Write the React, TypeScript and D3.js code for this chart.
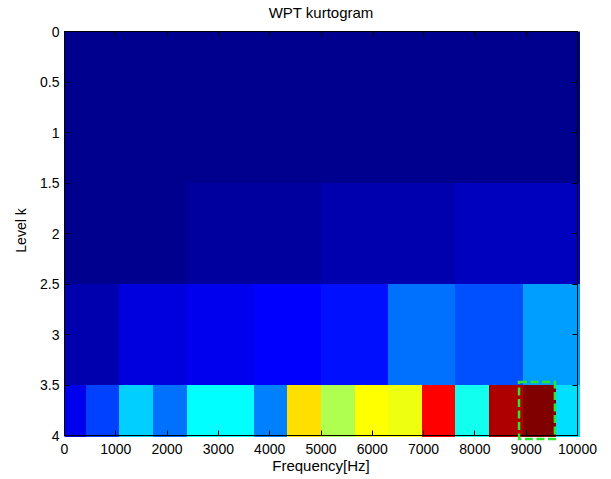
import { useEffect, useRef } from "react";
import * as d3 from "d3";

// kurtosis per frequency band, one array per decomposition level (2^k bands)
const KURT_LEVEL_0 = [0.0];
const KURT_LEVEL_1 = [0.0, 0.0];
const KURT_LEVEL_2 = [0.0, 0.1, 0.2, 0.3];
const KURT_LEVEL_3 = [0.2, 0.5, 0.6, 0.7, 0.8, 1.4, 1.2, 1.7];
const KURT_LEVEL_4 = [0.6, 1.1, 2.0, 1.4, 2.3, 2.3, 1.5, 4.1, 3.4, 3.9, 3.8, 5.5, 2.4, 6.0, 6.3, 2.1];
const LEVELS = [KURT_LEVEL_0, KURT_LEVEL_1, KURT_LEVEL_2, KURT_LEVEL_3, KURT_LEVEL_4];

// frequency span covered by the packet image (Hz)
const BAND_SPAN = [-240, 10240];

const FREQ_TICKS = [0, 1000, 2000, 3000, 4000, 5000, 6000, 7000, 8000, 9000, 10000];
const LEVEL_TICKS = [0, 0.5, 1, 1.5, 2, 2.5, 3, 3.5, 4];

// selected band box: [f0, f1, k0, k1]
const SELECTED = [8860, 9560, 3.47, 4.035];

// MATLAB jet(m)
function jet(m = 64): string[] {
  const n = Math.ceil(m / 4);
  const u = [
    ...d3.range(1, n + 1).map((i) => i / n),
    ...d3.range(n - 1).map(() => 1),
    ...d3.range(n, 0, -1).map((i) => i / n),
  ];
  const g0 = Math.ceil(n / 2) - (m % 4 === 1 ? 1 : 0);
  const J = d3.range(m).map(() => [0, 0, 0]);
  u.forEach((v, j) => {
    const g = g0 + j + 1;
    const r = g + n;
    const b = g - n;
    if (g >= 1 && g <= m) J[g - 1][1] = v;
    if (r >= 1 && r <= m) J[r - 1][0] = v;
    if (b >= 1 && b <= m) J[b - 1][2] = v;
  });
  return J.map(([r, g, b]) => d3.rgb(r * 255, g * 255, b * 255).formatHex());
}

export default function App() {
  const svgRef = useRef<SVGSVGElement>(null);
  const width = 611;
  const height = 479;

  useEffect(() => {
    const svgEl = svgRef.current;
    if (!svgEl) return;

    const margin = { top: 31.5, right: 33.5, bottom: 43.5, left: 64.5 };
    const innerW = width - margin.left - margin.right;
    const innerH = height - margin.top - margin.bottom;
    const font = "'Liberation Sans', Arial, Helvetica, sans-serif";

    const x = d3.scaleLinear().domain([0, 10000]).range([0, innerW]);
    const y = d3.scaleLinear().domain([0, 4]).range([0, innerH]);

    const all = LEVELS.flat();
    const color = d3
      .scaleQuantize<string>()
      .domain([d3.min(all) ?? 0, d3.max(all) ?? 1])
      .range(jet(64));

    const svg = d3.select(svgEl);
    svg.selectAll("*").remove();

    svg
      .append("defs")
      .append("clipPath")
      .attr("id", "plot-clip")
      .append("rect")
      .attr("x", 0)
      .attr("y", 0)
      .attr("width", innerW + 2.5)
      .attr("height", innerH + 1.5);

    const root = svg.append("g").attr("transform", `translate(${margin.left},${margin.top})`);

    // ── cells ────────────────────────────────────────────────────────────────
    type Cell = { k: number; f0: number; f1: number; v: number };
    const cells: Cell[] = [];
    LEVELS.forEach((vals, k) => {
      const bw = (BAND_SPAN[1] - BAND_SPAN[0]) / vals.length;
      vals.forEach((v, i) => {
        cells.push({ k, f0: BAND_SPAN[0] + i * bw, f1: BAND_SPAN[0] + (i + 1) * bw, v });
      });
    });

    root
      .append("g")
      .attr("clip-path", "url(#plot-clip)")
      .selectAll("rect")
      .data(cells)
      .join("rect")
      .attr("x", (d) => x(d.f0))
      .attr("y", (d) => y(d.k - 0.5))
      .attr("width", (d) => x(d.f1) - x(d.f0) + 0.4)
      .attr("height", (d) => y(d.k + 0.5) - y(d.k - 0.5) + 0.4)
      .attr("fill", (d) => color(d.v))
      .attr("shape-rendering", "crispEdges");

    // ── axes box + ticks ─────────────────────────────────────────────────────
    const tickLen = 5;
    const axisG = root.append("g").attr("stroke", "#000").attr("stroke-width", 1).attr("fill", "none");
    axisG.append("rect").attr("x", 0).attr("y", 0).attr("width", innerW).attr("height", innerH);

    FREQ_TICKS.forEach((t) => {
      const px = Math.round(x(t));
      axisG.append("line").attr("x1", px).attr("x2", px).attr("y1", innerH).attr("y2", innerH - tickLen);
      axisG.append("line").attr("x1", px).attr("x2", px).attr("y1", 0).attr("y2", tickLen);
    });
    LEVEL_TICKS.forEach((t) => {
      const py = Math.round(y(t));
      axisG.append("line").attr("x1", 0).attr("x2", tickLen).attr("y1", py).attr("y2", py);
      axisG.append("line").attr("x1", innerW).attr("x2", innerW - tickLen).attr("y1", py).attr("y2", py);
    });

    // tick labels
    root
      .append("g")
      .selectAll("text")
      .data(FREQ_TICKS)
      .join("text")
      .attr("x", (d) => x(d))
      .attr("y", innerH + 18)
      .attr("text-anchor", "middle")
      .attr("font-family", font)
      .attr("font-size", 14)
      .attr("fill", "#000")
      .text((d) => String(d));

    root
      .append("g")
      .selectAll("text")
      .data(LEVEL_TICKS)
      .join("text")
      .attr("x", -5)
      .attr("y", (d) => y(d) + 5)
      .attr("text-anchor", "end")
      .attr("font-family", font)
      .attr("font-size", 14)
      .attr("fill", "#000")
      .text((d) => String(d));

    // ── selected band ────────────────────────────────────────────────────────
    root
      .append("rect")
      .attr("x", x(SELECTED[0]))
      .attr("y", y(SELECTED[2]))
      .attr("width", x(SELECTED[1]) - x(SELECTED[0]))
      .attr("height", y(SELECTED[3]) - y(SELECTED[2]))
      .attr("fill", "none")
      .attr("stroke", "#2ee62e")
      .attr("stroke-width", 2.5)
      .attr("stroke-dasharray", "8,3.5");

    // ── labels ───────────────────────────────────────────────────────────────
    svg
      .append("text")
      .attr("x", margin.left + innerW / 2)
      .attr("y", 18)
      .attr("text-anchor", "middle")
      .attr("font-family", font)
      .attr("font-size", 15)
      .attr("fill", "#000")
      .text("WPT kurtogram");

    svg
      .append("text")
      .attr("x", margin.left + innerW / 2)
      .attr("y", 471)
      .attr("text-anchor", "middle")
      .attr("font-family", font)
      .attr("font-size", 15)
      .attr("fill", "#000")
      .text("Frequency[Hz]");

    svg
      .append("text")
      .attr("transform", `translate(26,${margin.top + innerH / 2 - 3}) rotate(-90)`)
      .attr("text-anchor", "middle")
      .attr("font-family", font)
      .attr("font-size", 14)
      .attr("fill", "#000")
      .text("Level k");
  }, []);

  return (
    <div style={{ position: "absolute", left: 0, top: 0, background: "#fff" }}>
      <svg ref={svgRef} width={width} height={height} style={{ display: "block" }} />
    </div>
  );
}
